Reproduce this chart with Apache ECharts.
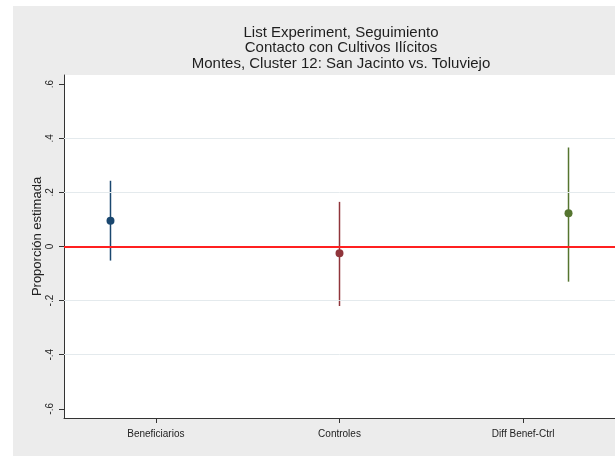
<!DOCTYPE html>
<html>
<head>
<meta charset="utf-8">
<script src="https://cdn.jsdelivr.net/npm/echarts@6/dist/echarts.min.js"></script>
<style>
  html, body { margin: 0; padding: 0; background: #fff; }
  #panel { position: absolute; left: 13px; top: 6px; width: 602px; height: 450px; background: #ececec; }
  #chart { position: absolute; left: 0; top: 0; width: 615px; height: 456px; }
</style>
</head>
<body>
<div id="panel"></div>
<div id="chart"></div>
<script>
// estimaciones del list experiment
var categories = ['Beneficiarios', 'Controles', 'Diff Benef-Ctrl'];
var estimates = [0.095, -0.025, 0.123];
var ciLow = [-0.052, -0.220, -0.130];
var ciHigh = [0.243, 0.165, 0.366];
var colors = ['#1a476f', '#90353b', '#55752f'];
var yTicks = [-0.6, -0.4, -0.2, 0, 0.2, 0.4, 0.6];
var yTickLabels = ['-.6', '-.4', '-.2', '0', '.2', '.4', '.6'];
var gridValues = [-0.4, -0.2, 0.2, 0.4];

var font = 'Arial, "Liberation Sans", sans-serif';

var pointData = categories.map(function (c, i) {
    return [i + 1, estimates[i], ciLow[i], ciHigh[i]];
});

var markData = gridValues.map(function (v) {
    return { yAxis: v, lineStyle: { color: '#e4eaed', width: 1, type: 'solid' } };
});
markData.push({ yAxis: 0, lineStyle: { color: '#ff2020', width: 2, type: 'solid' } });

var chart = echarts.init(document.getElementById('chart'));
var option = {
    backgroundColor: 'transparent',
    animation: false,
    title: {
        text: 'List Experiment, Seguimiento\nContacto con Cultivos Ilícitos\nMontes, Cluster 12: San Jacinto vs. Toluviejo',
        left: 341,
        textAlign: 'center',
        top: 25,
        padding: 0,
        textStyle: {
            fontFamily: font,
            fontSize: 15,
            fontWeight: 'normal',
            color: '#1e1e1e',
            lineHeight: 15.5
        }
    },
    grid: {
        left: 64,
        top: 75,
        width: 555,
        height: 343,
        show: true,
        backgroundColor: '#ffffff',
        borderWidth: 0
    },
    xAxis: [
        {
            type: 'category',
            data: categories,
            boundaryGap: true,
            axisLine: { show: true, onZero: false, lineStyle: { color: '#333', width: 1 } },
            axisTick: { show: true, alignWithLabel: true, length: 5, lineStyle: { color: '#333' } },
            axisLabel: { fontFamily: font, fontSize: 10, color: '#222', margin: 11 },
            splitLine: { show: false }
        },
        {
            type: 'value',
            min: 0.797,
            max: 3.203,
            show: false
        }
    ],
    yAxis: {
        type: 'value',
        min: -0.634,
        max: 0.634,
        name: 'Proporción estimada',
        nameLocation: 'middle',
        nameRotate: 90,
        nameGap: 20,
        nameMoveOverlap: false,
        nameTextStyle: { fontFamily: font, fontSize: 13, color: '#222', padding: [0, 0, 0, 20] },
        axisLine: { show: true, lineStyle: { color: '#333', width: 1 } },
        axisTick: { show: true, length: 5, customValues: yTicks, lineStyle: { color: '#333' } },
        axisLabel: {
            customValues: yTicks,
            rotate: 90,
            margin: 9,
            fontFamily: font,
            fontSize: 10,
            color: '#222',
            formatter: function (v) {
                var k = yTicks.findIndex(function (t) { return Math.abs(t - v) < 1e-9; });
                return k >= 0 ? yTickLabels[k] : '';
            }
        },
        splitLine: { show: false }
    },
    series: [
        {
            type: 'line',
            xAxisIndex: 1,
            data: [],
            z: 1,
            markLine: {
                silent: true,
                symbol: ['none', 'none'],
                label: { show: false },
                data: markData
            }
        },
        {
            type: 'custom',
            xAxisIndex: 1,
            z: 3,
            encode: { x: 0, y: [1, 2, 3] },
            data: pointData,
            renderItem: function (params, api) {
                var x = api.value(0);
                var p0 = api.coord([x, api.value(2)]);
                var p1 = api.coord([x, api.value(3)]);
                var pc = api.coord([x, api.value(1)]);
                var c = colors[params.dataIndex];
                return {
                    type: 'group',
                    children: [
                        { type: 'line', shape: { x1: p0[0], y1: p0[1], x2: p1[0], y2: p1[1] }, style: { stroke: c, lineWidth: 1.5 } },
                        { type: 'circle', shape: { cx: pc[0], cy: pc[1], r: 4 }, style: { fill: c } }
                    ]
                };
            }
        }
    ]
};
chart.setOption(option);
</script>
</body>
</html>
